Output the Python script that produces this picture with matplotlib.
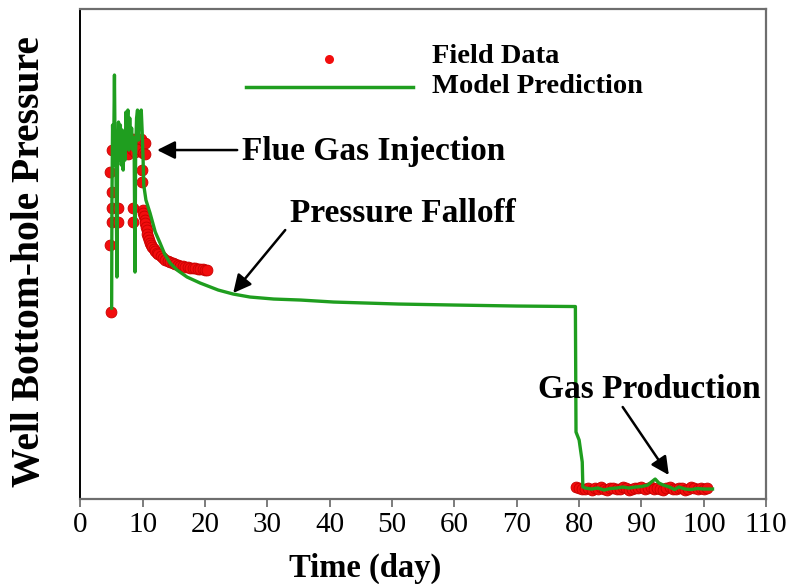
import matplotlib.pyplot as plt
from matplotlib.lines import Line2D
from matplotlib.legend_handler import HandlerLine2D

plt.rcParams['font.family'] = ['Liberation Serif', 'DejaVu Serif']

# field measurements: injection, falloff and production periods
inj_day = [4.9, 4.8, 5.0, 5.05, 5.05, 4.8, 5.0, 6.0, 6.0, 8.4, 8.4, 9.9, 9.9,
           7.7, 7.9, 8.2, 8.5, 8.8, 9.1, 9.4, 9.7, 10.0, 10.3, 10.3]
inj_p = [1870, 2540, 2770, 2910, 3070, 3270, 3490, 2910, 2770, 2910, 2770, 3290, 3170,
         3450, 3560, 3500, 3600, 3470, 3570, 3500, 3600, 3460, 3560, 3450]

fall_day = [10.0, 10.1, 10.2, 10.3, 10.4, 10.5, 10.6, 10.75, 10.85, 11.0, 11.2,
            11.35, 11.5, 11.75, 12.0, 12.25, 12.5, 12.85, 13.2, 13.6, 14.0, 14.4,
            14.8, 15.2, 15.6, 16.0, 16.4, 16.8, 17.2, 17.6, 18.0, 18.4, 18.8,
            19.2, 19.6, 20.0, 20.3]
fall_p = [2890, 2860, 2830, 2790, 2760, 2725, 2690, 2650, 2620, 2590, 2560,
          2540, 2520, 2500, 2480, 2465, 2450, 2430, 2410, 2395, 2380, 2370,
          2360, 2350, 2340, 2335, 2330, 2325, 2320, 2315, 2310, 2308, 2305,
          2302, 2300, 2295, 2290]

prod_day = [79.5, 80.0, 80.5, 81.0, 81.5, 82.0, 82.5, 83.0, 83.5, 84.0, 84.5,
            85.0, 85.5, 86.0, 86.5, 87.0, 87.5, 88.0, 88.5, 89.0, 89.5, 90.0,
            90.5, 91.0, 91.5, 92.0, 92.5, 93.0, 93.5, 94.0, 94.5, 95.0, 95.5,
            96.0, 96.5, 97.0, 97.5, 98.0, 98.5, 99.0, 99.5, 100.0, 100.5]
prod_p = [120, 110, 105, 100, 115, 95, 110, 100, 120, 105, 95,
          110, 115, 100, 105, 120, 110, 95, 105, 115, 110, 125,
          100, 110, 120, 105, 115, 100, 95, 110, 120, 105, 100,
          115, 110, 95, 105, 120, 110, 100, 115, 105, 110]

# simulated bottom-hole pressure
model_day = [5.0, 5.05, 5.15, 5.3, 5.45, 5.55, 5.7, 5.85, 5.95, 6.1, 6.25, 6.4,
             6.55, 6.7, 6.85, 7.0, 7.15, 7.3, 7.45, 7.6, 7.75, 7.9, 8.05, 8.2,
             8.4, 8.6, 8.75, 8.85, 9.0, 9.15, 9.3, 9.45, 9.6, 9.75, 9.9, 10.05,
             10.15, 10.5, 11.16, 12.0, 12.77, 13.5, 14.38, 15.5, 17.1, 19.2,
             22.1, 24.5, 27.2, 31.0, 35.3, 40.6, 51.0, 60.0, 70.0, 79.4,
             79.5, 80.0, 80.5, 80.6,
             81.0, 82.0, 83.0, 84.0, 85.0, 86.0, 87.0, 88.0, 89.0, 90.0, 91.0,
             91.8, 92.2, 92.8, 93.5, 94.5, 95.3, 96.0, 97.0, 98.0, 99.0, 100.0, 101.4]
model_p = [1910, 2990, 3740, 3340, 4240, 3490, 3290, 2220, 3490, 3770, 3390, 3740,
           3340, 3690, 3290, 3610, 3390, 3870, 3690, 3890, 3490, 3810, 3540, 3710,
           3490, 3610, 2270, 3490, 3810, 3890, 3590, 3870, 3710, 3890, 3670, 3390,
           3140, 2990, 2860, 2670, 2560, 2450, 2360, 2290, 2220, 2160,
           2090, 2050, 2020, 2000, 1990, 1970, 1950, 1940, 1930, 1925,
           670, 590, 370, 120,
           110, 100, 110, 90, 105, 110, 120, 110, 120, 125, 140,
           180, 200, 160, 140, 120, 95, 120, 100, 95, 105, 100, 100]

x_ticks = [0, 10, 20, 30, 40, 50, 60, 70, 80, 90, 100, 110]

red = '#f20d0d'
green = '#1f9e1f'


class LoweredHandler(HandlerLine2D):
    """Legend handle drawn a few points below the label's centre line."""
    def __init__(self, drop, **kw):
        super().__init__(**kw)
        self.drop = drop

    def create_artists(self, legend, orig_handle, xdescent, ydescent,
                       width, height, fontsize, trans):
        return super().create_artists(legend, orig_handle, xdescent,
                                      ydescent + 2 * self.drop, width, height,
                                      fontsize, trans)


fig = plt.figure(figsize=(7.89, 5.84), dpi=100)
ax = fig.add_axes([0.102, 0.1455, 0.869, 0.839])

for d, p in [(inj_day, inj_p), (fall_day, fall_p), (prod_day, prod_p)]:
    ax.plot(d, p, 'o', color=red, markersize=7.8, markeredgewidth=0.6,
            markeredgecolor='#c80000', zorder=2)
ax.plot(model_day, model_p, '-', color=green, linewidth=2.4, zorder=3)

ax.set_xlim(0, 110)
ax.set_ylim(0, 4900)
ax.set_xticks(x_ticks)
ax.set_yticks([])
ax.tick_params(axis='x', direction='out', length=6, width=1.2, color='#666666',
               labelsize=21, pad=3.5)

for side in ['top', 'right', 'bottom']:
    ax.spines[side].set_color('#6e6e6e')
    ax.spines[side].set_linewidth(1.6)
ax.spines['left'].set_color('black')
ax.spines['left'].set_linewidth(1.4)

ax.set_xlabel('Time (day)', fontsize=23.5, fontweight='bold', va='top')
ax.xaxis.set_label_coords(0.415, -0.109)
fig.text(30 / 789, 1 - 262 / 584, 'Well Bottom-hole Pressure', rotation=90,
         ha='center', va='center', fontsize=28.5, fontweight='bold')

# callouts
bold = dict(fontsize=24, fontweight='bold')
arrow = dict(arrowstyle='-|>,head_length=0.54,head_width=0.27', color='black',
             lw=1.8, mutation_scale=20, shrinkA=0, shrinkB=0)
ax.text(25.94, 3390, 'Flue Gas Injection', va='baseline', **bold)
ax.annotate('', xy=(12.29, 3490), xytext=(25.14, 3490), arrowprops=arrow)
ax.text(33.65, 2770, 'Pressure Falloff', va='baseline', **bold)
ax.annotate('', xy=(24.5, 2060), xytext=(32.85, 2690), arrowprops=arrow)
ax.text(73.33, 1010, 'Gas Production', va='baseline', **bold)
ax.annotate('', xy=(94.39, 240), xytext=(86.99, 920), arrowprops=arrow)

dot = Line2D([], [], marker='o', linestyle='none', color=red, markersize=6.5,
             markeredgewidth=0)
line = Line2D([], [], color=green, linewidth=2.5)
ax.legend([dot, line], ['Field Data', 'Model Prediction'], loc='upper left',
          bbox_to_anchor=(246 / 789, 1 - 43 / 584), bbox_transform=fig.transFigure,
          frameon=False, borderpad=0, borderaxespad=0, handlelength=5.85,
          handletextpad=0.7, labelspacing=0.15, numpoints=1,
          handler_map={dot: LoweredHandler(4.0), line: LoweredHandler(3.0)},
          prop=dict(size=20.5, weight='bold'))

fig.savefig('out.png', dpi=100)
